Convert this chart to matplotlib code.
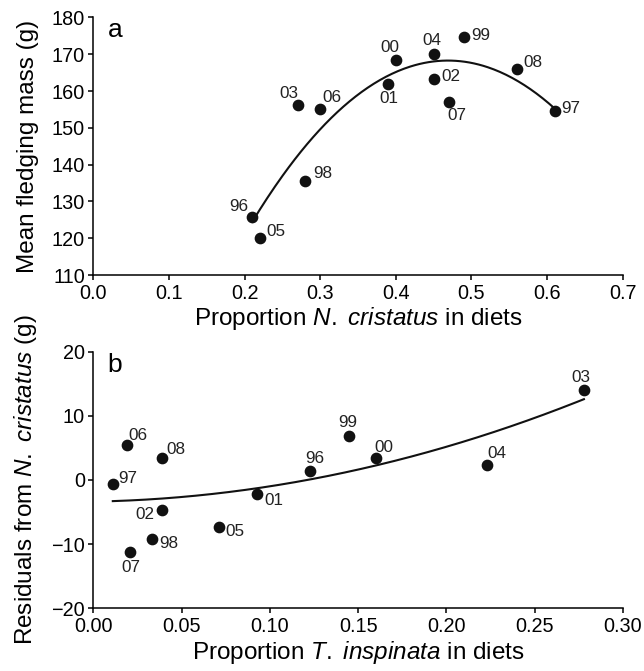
import numpy as np
import matplotlib
matplotlib.use("Agg")
import matplotlib.pyplot as plt

plt.rcParams['font.family'] = ['Liberation Sans', 'DejaVu Sans']
plt.rcParams['mathtext.fontset'] = 'custom'
plt.rcParams['mathtext.it'] = 'Liberation Sans:italic'
plt.rcParams['mathtext.rm'] = 'Liberation Sans'

# panel a: mean fledging mass vs proportion N. cristatus
years_a = ['96', '05', '98', '03', '06', '00', '01', '04', '02', '07', '99', '08', '97']
cristatus = [0.21, 0.22, 0.28, 0.27, 0.30, 0.40, 0.39, 0.45, 0.45, 0.47, 0.49, 0.56, 0.61]
mass = [125.7, 120.2, 135.7, 156.2, 155.0, 168.4, 161.9, 170.2, 163.3, 157.1, 174.7, 166.1, 154.6]

# panel b: residuals vs proportion T. inspinata
years_b = ['97', '06', '08', '02', '98', '07', '05', '01', '96', '99', '00', '04', '03']
inspinata = [0.011, 0.019, 0.039, 0.039, 0.033, 0.021, 0.071, 0.093, 0.123, 0.145, 0.160, 0.223, 0.278]
resid = [-0.6, 5.4, 3.4, -4.6, -9.2, -11.2, -7.4, -2.2, 1.4, 6.9, 3.4, 2.3, 14.0]

# label offsets (pixels, centre of label relative to point)
offs_a = {'96': (-13, 11), '05': (16, 6), '98': (18, 7), '03': (-9, 12), '06': (12, 12),
          '00': (-6, 13), '01': (1, -14), '04': (-2, 13), '02': (17, 2), '07': (8, -14),
          '99': (17, 1), '08': (16, 6), '97': (16, 2)}
offs_b = {'97': (15, 5), '06': (11, 10), '08': (14, 9), '02': (-17, -5), '98': (17, -4),
          '07': (0, -16), '05': (16, -4), '01': (16, -6), '96': (4, 13), '99': (-1, 13),
          '00': (8, 11), '04': (10, 12), '03': (-3, 13)}

fig = plt.figure(figsize=(6.44, 6.71), dpi=100)
ax1 = fig.add_axes([0.145, 0.590, 0.822, 0.384])
ax2 = fig.add_axes([0.145, 0.0934, 0.822, 0.3825])


def style(ax):
    for s in ['top', 'right']:
        ax.spines[s].set_visible(False)
    for s in ['left', 'bottom']:
        ax.spines[s].set_linewidth(1.1)
    ax.tick_params(direction='out', length=3.6, width=1.1, labelsize=14.3, pad=2.5)


def label_points(ax, xs, ys, names, offs):
    for x, y, n in zip(xs, ys, names):
        dx, dy = offs[n]
        ax.annotate(n, (x, y), xytext=(dx * 0.72, dy * 0.72), textcoords='offset points',
                    ha='center', va='center', fontsize=12.3, color='#222222')


# panel a
ax1.scatter(cristatus, mass, s=55, color='#111111', zorder=3, clip_on=False)
ca = np.polyfit(cristatus, mass, 2)
xa = np.linspace(min(cristatus), max(cristatus), 200)
ax1.plot(xa, np.polyval(ca, xa), color='#111111', lw=1.5)
label_points(ax1, cristatus, mass, years_a, offs_a)
ax1.set_xlim(0, 0.7)
ax1.set_ylim(110, 180)
ax1.set_xticks(np.arange(0, 0.71, 0.1))
ax1.set_xticklabels([f'{v:.1f}' for v in np.arange(0, 0.71, 0.1)])
ax1.set_yticks(range(110, 181, 10))
style(ax1)
ax1.set_xlabel(r'Proportion $N.$ $cristatus$ in diets', fontsize=17.5, labelpad=2)
ax1.set_ylabel('Mean fledging mass (g)', fontsize=17.5, labelpad=9)
ax1.text(0.041, 0.951, 'a', transform=ax1.transAxes, fontsize=19, va='center', ha='center')

# panel b
ax2.scatter(inspinata, resid, s=55, color='#111111', zorder=3, clip_on=False)
cb = np.polyfit(inspinata, resid, 2)
xb = np.linspace(min(inspinata), max(inspinata), 200)
ax2.plot(xb, np.polyval(cb, xb), color='#111111', lw=1.5)
label_points(ax2, inspinata, resid, years_b, offs_b)
ax2.set_xlim(0, 0.3)
ax2.set_ylim(-20, 20)
ax2.set_xticks(np.arange(0, 0.31, 0.05))
ax2.set_xticklabels([f'{v:.2f}' for v in np.arange(0, 0.31, 0.05)])
ax2.set_yticks([-20, -10, 0, 10, 20])
ax2.set_yticklabels(['\u221220', '\u221210', '0', '10', '20'])
style(ax2)
ax2.set_xlabel(r'Proportion $T.$ $inspinata$ in diets', fontsize=17.5, labelpad=2)
ax2.set_ylabel(r'Residuals from $N.$ $cristatus$ (g)', fontsize=17.5, labelpad=9)
ax2.text(0.041, 0.948, 'b', transform=ax2.transAxes, fontsize=19, va='center', ha='center')

fig.savefig('out.png', dpi=100)
